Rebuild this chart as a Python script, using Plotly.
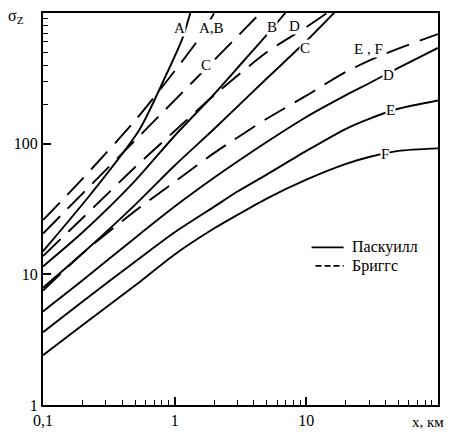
import math
import plotly.graph_objects as go

# Vertical dispersion sigma_z (m) versus downwind distance x (km)
# Pasquill stability classes (solid)
pasq_A_x = [0.1, 0.23, 0.54, 0.84, 1.14, 1.35]
pasq_A_y = [15, 41, 128, 318, 631, 1100]
pasq_B_x = [0.1, 0.2, 0.5, 1, 2, 3, 5, 7.2]
pasq_B_y = [11.5, 21, 52, 115, 240, 380, 680, 1050]
pasq_C_x = [0.1, 0.2, 0.5, 1, 2, 5, 10, 17]
pasq_C_y = [7.9, 14.5, 34, 68, 130, 315, 610, 1050]
pasq_D_x = [0.1, 0.2, 0.5, 1, 2, 3, 5, 10, 20, 30, 50, 100]
pasq_D_y = [5.2, 9, 19, 33, 55, 73, 103, 160, 235, 290, 380, 540]
pasq_E_x = [0.1, 0.2, 0.5, 1, 2, 3, 5, 10, 20, 30, 50, 100]
pasq_E_y = [3.6, 6.2, 12.5, 21, 33, 43, 58, 88, 130, 155, 185, 214]
pasq_F_x = [0.1, 0.2, 0.5, 1, 2, 3, 5, 10, 20, 30, 50, 100]
pasq_F_y = [2.4, 4.1, 8.2, 14.2, 22.5, 28.5, 38, 53, 70, 79, 88, 92]

# Briggs classes (dashed)
brig_AB_x = [0.1, 0.2, 0.5, 1, 1.5, 2.0]
brig_AB_y = [26, 54, 150, 360, 620, 1000]
brig_C_x = [0.1, 1, 4.7]
brig_C_y = [20.5, 215, 1050]
brig_D_x = [0.1, 0.2, 0.5, 1, 2, 5, 10, 15]
brig_D_y = [13.8, 27, 66, 125, 235, 500, 780, 1030]
brig_EF_x = [0.1, 0.2, 0.5, 1, 2, 5, 10, 20, 40, 100]
brig_EF_y = [7.5, 14.5, 30.5, 51, 85, 155, 233, 355, 490, 690]

# Curve labels: (text, x km, sigma_z m)
curve_labels = [
    ("A", 1.085, 774), ("A,B", 1.89, 774), ("C", 1.74, 397),
    ("B", 5.48, 788), ("D", 8.17, 802), ("C", 9.72, 541),
    ("E , F", 29.6, 531), ("D", 42, 334), ("E", 43.5, 180), ("F", 39.8, 83),
]

x_tick_vals = [0.1, 1, 10]
x_tick_text = ["0,1", "1", "10"]
y_tick_vals = [1, 10, 100]
y_tick_text = ["1", "10", "100"]

SERIF = "Liberation Serif, Times New Roman, DejaVu Serif, serif"
DASH = "24px,11px"
LW = 1.9

fig = go.Figure()

solid = [
    (pasq_A_x, pasq_A_y), (pasq_B_x, pasq_B_y), (pasq_C_x, pasq_C_y),
    (pasq_D_x, pasq_D_y), (pasq_E_x, pasq_E_y), (pasq_F_x, pasq_F_y),
]
dashed = [
    (brig_AB_x, brig_AB_y), (brig_C_x, brig_C_y),
    (brig_D_x, brig_D_y), (brig_EF_x, brig_EF_y),
]

for xs, ys in solid:
    fig.add_trace(go.Scatter(
        x=xs, y=ys, mode="lines", showlegend=False, hoverinfo="skip",
        line=dict(color="black", width=LW, shape="spline", smoothing=0.7),
    ))
for xs, ys in dashed:
    fig.add_trace(go.Scatter(
        x=xs, y=ys, mode="lines", showlegend=False, hoverinfo="skip",
        line=dict(color="black", width=LW, dash=DASH, shape="spline", smoothing=0.7),
    ))

# curve labels sit on white patches that break the lines (log axes take log10 positions)
for text, lx, ly in curve_labels:
    fig.add_annotation(
        x=math.log10(lx), y=math.log10(ly), text=text, showarrow=False,
        xref="x", yref="y", bgcolor="white", borderpad=0,
        font=dict(family=SERIF, size=15, color="black"),
    )

# legend drawn by hand: short line samples and their captions
legend_rows = [("Паскуилл", "solid", 0.680, 0.402), ("Бриггс", "6px,3px", 0.690, 0.355)]
for caption, dash, x0, yrow in legend_rows:
    fig.add_shape(
        type="line", xref="paper", yref="paper",
        x0=x0, x1=0.761, y0=yrow, y1=yrow,
        line=dict(color="black", width=LW, dash=dash),
    )
    fig.add_annotation(
        xref="paper", yref="paper", x=0.776, y=yrow, xanchor="left", yanchor="middle",
        text=caption, showarrow=False,
        font=dict(family=SERIF, size=16, color="black"),
    )

fig.add_annotation(
    xref="paper", yref="paper", x=-0.068, y=0.99, xanchor="center", yanchor="middle",
    text="σ<sub>Z</sub>", showarrow=False,
    font=dict(family=SERIF, size=16, color="black"),
)
fig.add_annotation(
    xref="paper", yref="paper", x=1.02, y=-0.018, xanchor="right", yanchor="top",
    text="x, км", showarrow=False,
    font=dict(family=SERIF, size=15, color="black"),
)

fig.update_xaxes(
    type="log", range=[-1, 2],
    showline=True, linecolor="black", linewidth=2, mirror=True,
    showgrid=False, zeroline=False,
    ticks="inside", ticklen=8, tickwidth=1.5, tickcolor="black",
    tickvals=x_tick_vals, ticktext=x_tick_text,
    tickfont=dict(family=SERIF, size=16, color="black"),
    minor=dict(
        ticks="inside", ticklen=5, tickwidth=1.2, tickcolor="black",
        tickvals=[0.2, 0.3, 0.4, 0.5, 0.6, 0.7, 0.8, 0.9,
                  2, 3, 4, 5, 6, 7, 8, 9, 20, 30, 40, 50, 60, 70, 80, 90],
        showgrid=False,
    ),
)
fig.update_yaxes(
    type="log", range=[0, 3],
    showline=True, linecolor="black", linewidth=2, mirror=True,
    showgrid=False, zeroline=False,
    ticks="inside", ticklen=8, tickwidth=1.5, tickcolor="black",
    tickvals=y_tick_vals, ticktext=y_tick_text,
    tickfont=dict(family=SERIF, size=16, color="black"),
    minor=dict(
        ticks="inside", ticklen=5, tickwidth=1.2, tickcolor="black",
        tickvals=[200, 300, 400, 500, 600, 700, 800, 900],
        showgrid=False,
    ),
)

fig.update_layout(
    width=449, height=438,
    margin=dict(l=43, r=9, t=13, b=22),
    paper_bgcolor="white", plot_bgcolor="white",
    showlegend=False,
)

fig.write_html("out.html")
